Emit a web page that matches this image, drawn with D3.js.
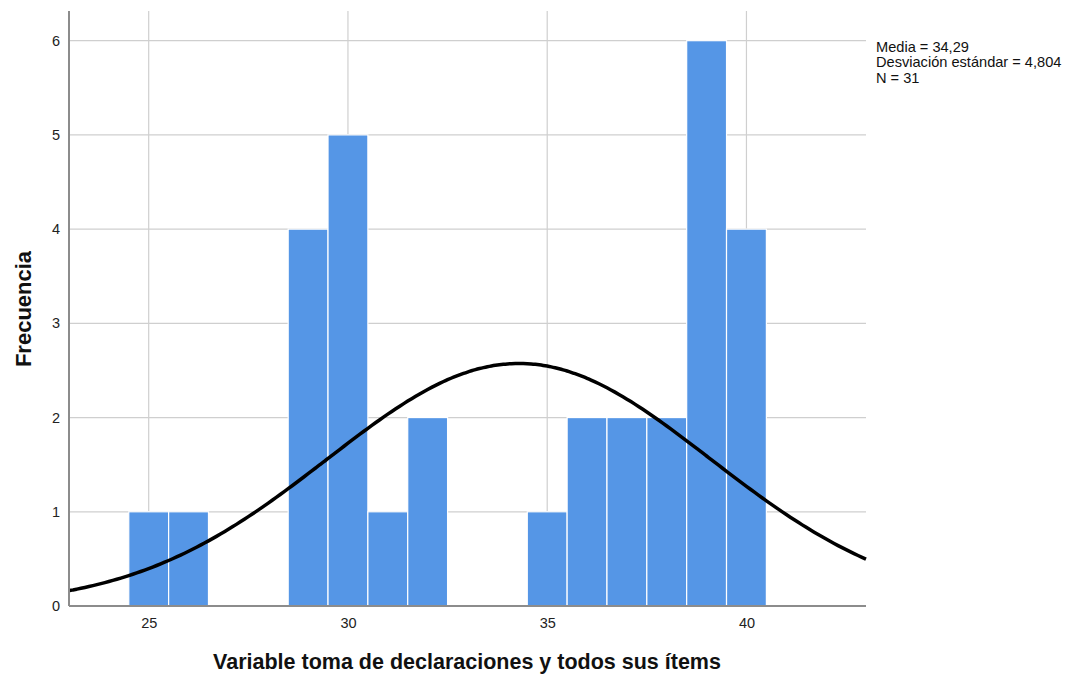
<!DOCTYPE html>
<html>
<head>
<meta charset="utf-8">
<script src="https://cdn.jsdelivr.net/npm/d3@7"></script>
<style>
  body { margin: 0; background: #fff; }
  text { font-family: "Liberation Sans", Arial, sans-serif; }
</style>
</head>
<body>
<script>
var binCenters = [25, 26, 29, 30, 31, 32, 35, 36, 37, 38, 39, 40];
var frequencies = [1, 1, 4, 5, 1, 2, 1, 2, 2, 2, 6, 4];
var xTicks = [25, 30, 35, 40];
var yTicks = [0, 1, 2, 3, 4, 5, 6];
var statsLines = ['Media = 34,29', 'Desviación estándar = 4,804', 'N = 31'];
var mean = 34.29, sd = 4.804, n = 31, binWidth = 1;

var barColor = '#5596e6';
var gridColor = '#cfcfcf';
var axisColor = '#8c8c8c';

var margin = {left: 69, top: 11, right: 1071 - 866, bottom: 675 - 606};
var width = 1071, height = 675;
var w = width - margin.left - margin.right;
var h = height - margin.top - margin.bottom;

var svg = d3.select('body').append('svg')
    .attr('width', width)
    .attr('height', height);

var x = d3.scaleLinear().domain([23, 43]).range([0, w]);
var y = d3.scaleLinear().domain([0, 6.315]).range([h, 0]);

var g = svg.append('g')
    .attr('transform', 'translate(' + margin.left + ',' + margin.top + ')');

// grid
g.selectAll('.vgrid')
    .data(xTicks)
    .enter().append('line')
    .attr('class', 'vgrid')
    .attr('x1', function(d) { return x(d); })
    .attr('x2', function(d) { return x(d); })
    .attr('y1', 0)
    .attr('y2', h)
    .style('stroke', gridColor)
    .style('stroke-width', 1.2);

g.selectAll('.hgrid')
    .data(yTicks.slice(1))
    .enter().append('line')
    .attr('class', 'hgrid')
    .attr('x1', 0)
    .attr('x2', w)
    .attr('y1', function(d) { return y(d); })
    .attr('y2', function(d) { return y(d); })
    .style('stroke', gridColor)
    .style('stroke-width', 1.2);

// bars
var bins = binCenters.map(function(c, i) { return {c: c, f: frequencies[i]}; });
g.selectAll('.bar')
    .data(bins)
    .enter().append('rect')
    .attr('class', 'bar')
    .attr('x', function(d) { return x(d.c - binWidth / 2); })
    .attr('width', function(d) { return x(d.c + binWidth / 2) - x(d.c - binWidth / 2); })
    .attr('y', function(d) { return y(d.f); })
    .attr('height', function(d) { return y(0) - y(d.f); })
    .style('fill', barColor)
    .style('stroke', '#fff')
    .style('stroke-width', 1.2);

// normal curve from the reported mean / sd / N
var curvePts = d3.range(23, 43.001, 0.1).map(function(v) {
    var z = (v - mean) / sd;
    return [v, n * binWidth / (sd * Math.sqrt(2 * Math.PI)) * Math.exp(-0.5 * z * z)];
});
g.append('path')
    .datum(curvePts)
    .attr('d', d3.line()
        .x(function(d) { return x(d[0]); })
        .y(function(d) { return y(d[1]); })
        .curve(d3.curveBasis))
    .style('fill', 'none')
    .style('stroke', '#000')
    .style('stroke-width', 3.5);

// axes
var xAxis = g.append('g')
    .attr('transform', 'translate(0,' + h + ')')
    .call(d3.axisBottom(x).tickValues(xTicks).tickSize(0).tickPadding(12));
var yAxis = g.append('g')
    .call(d3.axisLeft(y).tickValues(yTicks).tickFormat(d3.format('d')).tickSize(0).tickPadding(9));

[xAxis, yAxis].forEach(function(a) {
    a.select('.domain').style('stroke', axisColor).style('stroke-width', 2);
    a.selectAll('text')
        .style('font-size', '14.5px')
        .style('fill', '#222')
        .style('font-family', '"Liberation Sans", Arial, sans-serif');
});
xAxis.select('.domain').attr('d', 'M0,0H' + w);
yAxis.select('.domain').attr('d', 'M0,' + h + 'V0');

// axis titles
svg.append('text')
    .attr('x', 467)
    .attr('y', 669)
    .attr('text-anchor', 'middle')
    .style('font-size', '21.5px')
    .style('font-weight', 'bold')
    .style('fill', '#111')
    .text('Variable toma de declaraciones y todos sus ítems');

svg.append('text')
    .attr('transform', 'translate(31,309) rotate(-90)')
    .attr('text-anchor', 'middle')
    .style('font-size', '22px')
    .style('font-weight', 'bold')
    .style('fill', '#111')
    .text('Frecuencia');

// stats box
svg.selectAll('.stat')
    .data(statsLines)
    .enter().append('text')
    .attr('class', 'stat')
    .attr('x', 876)
    .attr('y', function(d, i) { return 51.5 + i * 15.5; })
    .style('font-size', '14.6px')
    .style('fill', '#111')
    .text(function(d) { return d; });
</script>
</body>
</html>
